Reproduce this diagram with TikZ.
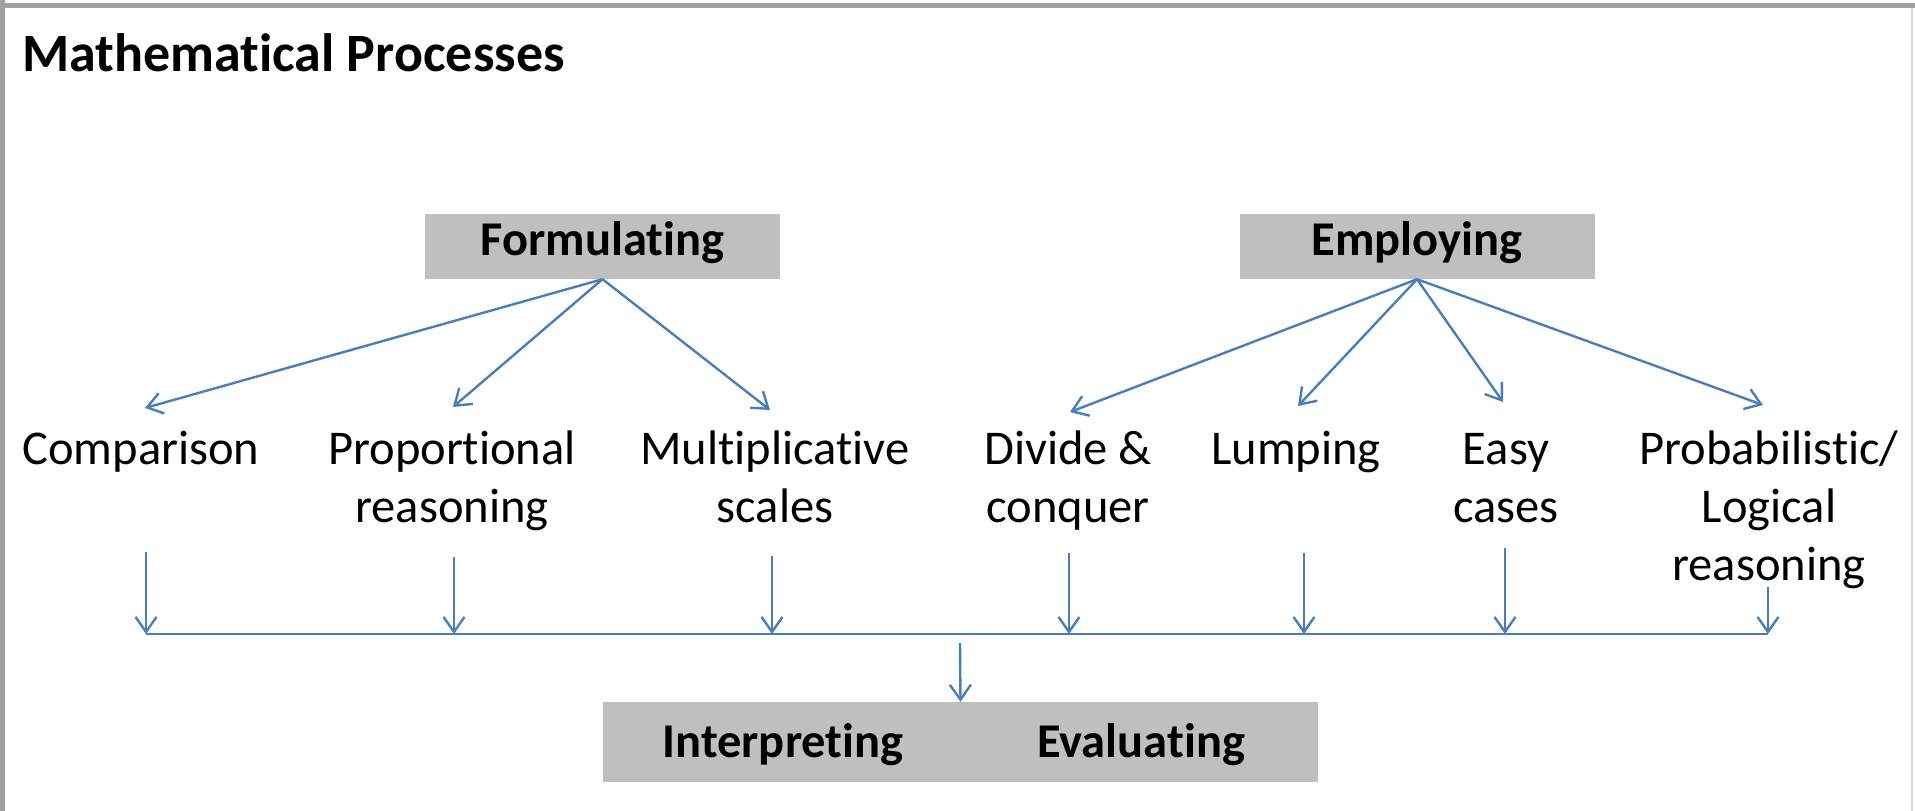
\documentclass[tikz,border=0pt]{standalone}
\usepackage{fontspec}
\setmainfont{Carlito}[Ligatures={NoCommon}]
\usetikzlibrary{arrows.meta}
\definecolor{lineblue}{RGB}{74,126,187}
\definecolor{boxgray}{RGB}{191,191,191}
\definecolor{framegray}{RGB}{160,160,160}
\definecolor{framelight}{RGB}{215,215,215}
\begin{document}
\begin{tikzpicture}[x=1pt,y=-1pt,
  lbl/.style={font=\fontsize{48.5pt}{58pt}\selectfont, align=center, inner sep=0pt, anchor=base},
  boldlbl/.style={font=\fontsize{48.5pt}{58pt}\selectfont\bfseries, inner sep=0pt, anchor=base},
  titlelbl/.style={font=\fontsize{54pt}{64pt}\selectfont\bfseries, inner sep=0pt, anchor=base west},
  procbox/.style={fill=boxgray, draw=none, inner sep=0pt, minimum width=355pt, minimum height=65pt},
  conn/.style={draw=lineblue, line width=2.4pt, -{Straight Barb[length=15pt,width=21pt]}},
  plainconn/.style={draw=lineblue, line width=2.6pt}
]
\useasboundingbox (0,0) rectangle (1915,811);
\fill[white] (0,0) rectangle (1915,811);
% frame
\draw[framelight, line width=2pt] (1912,4) -- (1912,811);
\draw[framegray, line width=5pt] (0,5.5) -- (1915,5.5);
\draw[framegray, line width=5pt] (2.5,0) -- (2.5,811);

% title
\node[titlelbl] (title) at (22,71) {Mathematical Processes};

% top boxes
\node[procbox] (frm) at (602.5,246.5) {};
\node[boldlbl] (frmt) at (602.5,255) {Formulating};
\node[procbox] (emp) at (1417,246.5) {};
\node[boldlbl] (empt) at (1417,255) {Employing};

% labels (base anchor = baseline of last line)
\node[lbl] (cmp) at (141,464) {Comparison};
\node[lbl] (prop) at (452,522) {Proportional\\reasoning};
\node[lbl] (mult) at (775,522) {Multiplicative\\scales};
\node[lbl] (div) at (1068,522) {Divide \&\\conquer};
\node[lbl] (lump) at (1296,464) {Lumping};
\node[lbl] (easy) at (1506,522) {Easy\\cases};
\node[lbl] (prob) at (1769,580) {Probabilistic/\\Logical\\reasoning};

% bottom box
\node[procbox, minimum width=715pt, minimum height=80pt] (ie) at (960.5,742) {};
\node[boldlbl] (interp) at (783,757) {Interpreting};
\node[boldlbl] (evalu) at (1141,757) {Evaluating};

% arrow tip coordinates
\coordinate (tcmp) at (145,408);
\coordinate (tprop) at (453,407);
\coordinate (tmult) at (770,410);
\coordinate (tdiv) at (1070,412);
\coordinate (tlump) at (1298,406);
\coordinate (teasy) at (1503,402);
\coordinate (tprob) at (1763,405);

\draw[conn] (frm.south) -- (tcmp);
\draw[conn] (frm.south) -- (tprop);
\draw[conn] (frm.south) -- (tmult);
\draw[conn] (emp.south) -- (tdiv);
\draw[conn] (emp.south) -- (tlump);
\draw[conn] (emp.south) -- (teasy);
\draw[conn] (emp.south) -- (tprob);

% vertical arrows
\coordinate (vcmp) at (146,552);   \coordinate (hcmp) at (146,634);
\coordinate (vprop) at (454,557);  \coordinate (hprop) at (454,634);
\coordinate (vmult) at (772,556);  \coordinate (hmult) at (772,634);
\coordinate (vdiv) at (1069,553);  \coordinate (hdiv) at (1069,634);
\coordinate (vlump) at (1304,553); \coordinate (hlump) at (1304,634);
\coordinate (veasy) at (1505,548); \coordinate (heasy) at (1505,634);
\coordinate (vprob) at (1768,587); \coordinate (hprob) at (1768,634);

\draw[conn] (vcmp) -- (hcmp);
\draw[conn] (vprop) -- (hprop);
\draw[conn] (vmult) -- (hmult);
\draw[conn] (vdiv) -- (hdiv);
\draw[conn] (vlump) -- (hlump);
\draw[conn] (veasy) -- (heasy);
\draw[conn] (vprob) -- (hprob);

\draw[plainconn] (hcmp) -- (hprob);

\coordinate (hmid) at (960,643);
\draw[conn] (hmid) -- (ie.north);
\end{tikzpicture}
\end{document}
